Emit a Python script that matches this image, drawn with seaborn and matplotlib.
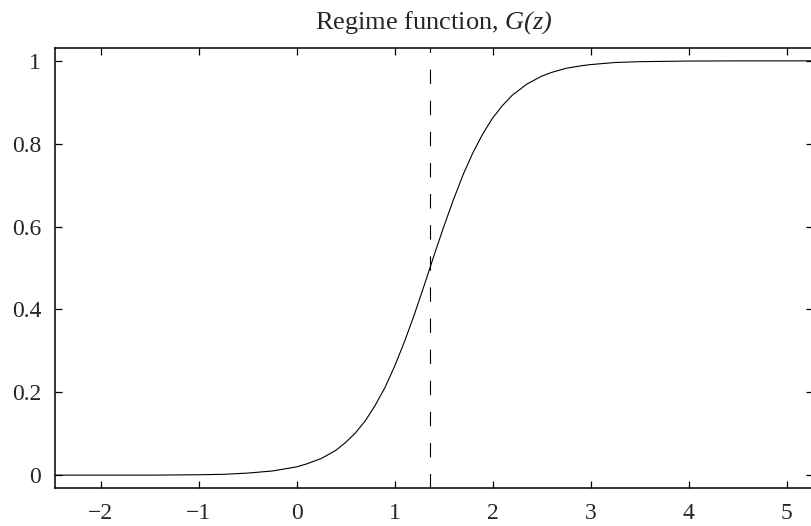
import matplotlib
matplotlib.use("Agg")
import matplotlib.pyplot as plt
import seaborn as sns
import pandas as pd

# values
z_vals = [-2.47, -2.0, -1.5, -1.0, -0.75, -0.5, -0.25, 0.0,
          0.1, 0.25, 0.4, 0.5, 0.6, 0.7, 0.8, 0.9,
          1.0, 1.1, 1.2, 1.3, 1.4, 1.5, 1.6, 1.7, 1.8, 1.9,
          2.0, 2.1, 2.2, 2.35, 2.5, 2.6, 2.75, 2.9,
          3.0, 3.25, 3.5, 4.0, 4.5, 5.27]
g_vals = [0.000, 0.000, 0.000, 0.001, 0.002, 0.005, 0.010, 0.020,
          0.027, 0.040, 0.060, 0.079, 0.102, 0.131, 0.168, 0.211,
          0.263, 0.322, 0.387, 0.457, 0.529, 0.599, 0.665, 0.726, 0.779, 0.824,
          0.862, 0.892, 0.917, 0.944, 0.963, 0.972, 0.982, 0.988,
          0.991, 0.996, 0.998, 0.9995, 0.9999, 1.000]
threshold = 1.36

x_ticks = [-2, -1, 0, 1, 2, 3, 4, 5]
y_ticks = [0, 0.2, 0.4, 0.6, 0.8, 1]
y_tick_labels = ["0", "0.2", "0.4", "0.6", "0.8", "1"]

df = pd.DataFrame({"z": z_vals, "G": g_vals})

sns.set_style("ticks")
plt.rcParams["font.family"] = ["Liberation Serif", "DejaVu Serif"]
# math part of the title (G(z)) fully italic, parentheses included
plt.rcParams["mathtext.fontset"] = "custom"
plt.rcParams["mathtext.rm"] = "Liberation Serif:italic"
plt.rcParams["mathtext.it"] = "Liberation Serif:italic"

fig = plt.figure(figsize=(8.11, 5.26), dpi=100)
ax = fig.add_axes([55 / 811, 38 / 526, 758 / 811, 440 / 526])

sns.lineplot(data=df, x="z", y="G", color="black", linewidth=0.8, ax=ax)
ax.axvline(threshold, color="black", linewidth=0.8, dashes=(13, 15))

ax.set_xlim(-2.466, 5.269)
ax.set_ylim(-0.031, 1.031)
ax.set_xticks(x_ticks)
ax.set_yticks(y_ticks)
ax.set_yticklabels(y_tick_labels)
ax.set_xlabel("")
ax.set_ylabel("")
ax.tick_params(direction="in", length=5, width=0.9, labelsize=17,
               top=True, right=True, color="black")
ax.tick_params(axis="y", pad=10)
ax.tick_params(axis="x", pad=11)
for s in ax.spines.values():
    s.set_visible(True)
    s.set_linewidth(1.1)
    s.set_color("black")

ax.set_title("Regime function, $\\mathrm{G(z)}$", fontsize=19, pad=14)

fig.savefig("out.png", dpi=100)
